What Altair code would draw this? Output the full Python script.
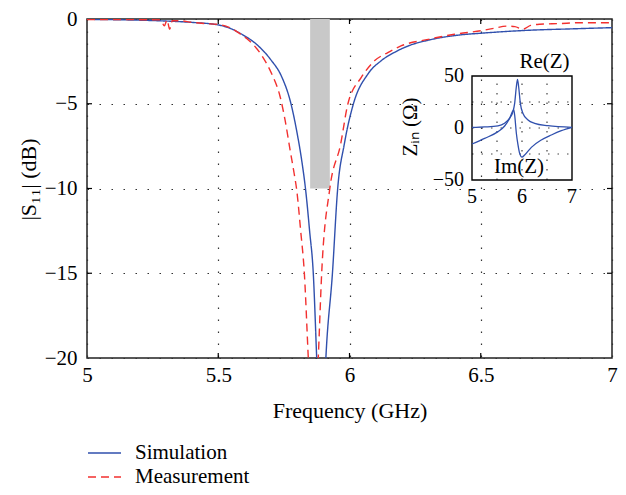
import altair as alt
import pandas as pd

BLUE = "#3050ad"
RED = "#f2302f"
FONT = "Liberation Serif"

# ---------------- data ----------------
series_names = ["Simulation", "Measurement"]

sim_freq = [5.00, 5.10, 5.20, 5.30, 5.40, 5.50, 5.55, 5.59, 5.65, 5.70, 5.74, 5.777,
            5.80, 5.818, 5.833, 5.848, 5.862, 5.875, 5.892, 5.910, 5.935, 5.955, 5.98,
            6.015, 6.07, 6.12, 6.17, 6.234, 6.30, 6.42, 6.50, 6.675, 6.85, 7.00]
sim_db = [-0.02, -0.04, -0.07, -0.12, -0.2, -0.35, -0.58, -0.9, -1.55, -2.4, -3.35, -5.0,
          -6.7, -8.35, -10.1, -12.5, -15.0, -20.0, -27.0, -20.0, -15.0, -10.0, -7.4,
          -5.0, -3.25, -2.47, -1.98, -1.53, -1.25, -0.94, -0.84, -0.67, -0.58, -0.51]

meas_freq = [5.00, 5.10, 5.20, 5.28, 5.295, 5.305, 5.315, 5.325, 5.35, 5.40, 5.45, 5.50,
             5.55, 5.59, 5.616, 5.667, 5.704, 5.736, 5.755, 5.774, 5.789, 5.799, 5.814,
             5.828, 5.843, 5.862, 5.881, 5.894, 5.925, 5.966, 5.994, 6.045, 6.095, 6.146,
             6.196, 6.30, 6.40, 6.50, 6.55, 6.60, 6.63, 6.66, 6.69, 6.725, 6.80, 6.876, 7.00]
meas_db = [-0.03, -0.03, -0.04, -0.05, -0.4, -0.05, -0.6, -0.1, -0.1, -0.2, -0.27, -0.32,
           -0.55, -0.95, -1.25, -2.18, -3.25, -4.6, -6.0, -7.76, -9.1, -10.1, -12.5,
           -15.0, -20.0, -26.0, -20.0, -15.0, -10.0, -7.4, -5.0, -3.45, -2.47, -1.98,
           -1.59, -1.2, -0.9, -0.69, -0.55, -0.42, -0.45, -0.6, -0.38, -0.31, -0.27, -0.22, -0.22]

# shaded band (GHz, dB)
band_f = [5.85, 5.925]
band_db = [-10, 0]

# inset: input impedance (Ohm)
re_freq = [5.0, 5.25, 5.52, 5.65, 5.75, 5.82, 5.853, 5.887, 5.91, 5.933, 5.967, 6.02,
           6.12, 6.253, 6.52, 7.0]
re_val = [0.5, 1.0, 2.0, 4.5, 9.3, 15.7, 23.7, 39.7, 46.8, 39.7, 23.7, 14.0, 7.7, 4.5, 2.2, 0.6]
im_freq = [5.0, 5.253, 5.52, 5.653, 5.753, 5.82, 5.835, 5.853, 5.887, 5.92, 5.953, 6.0,
           6.053, 6.187, 6.387, 6.587, 6.787, 7.0]
im_val = [-15.4, -10.0, -3.5, 1.9, 9.3, 16.7, 17.3, 12.5, -5.0, -16.3, -24.4, -28.0,
          -26.0, -18.6, -11.5, -6.7, -2.6, 0.6]

x_ticks = [5, 5.5, 6, 6.5, 7]
y_ticks = [0, -5, -10, -15, -20]
inset_x_ticks = [5, 6, 7]
inset_y_ticks = [-50, 0, 50]
inset_x_grid = [5.5, 6, 6.5]
inset_y_grid = [-25, 0, 25]

# ---------------- layout ----------------
W, H = 525, 339

main_df = pd.concat([
    pd.DataFrame({"series": series_names[0], "f": sim_freq, "db": sim_db}),
    pd.DataFrame({"series": series_names[1], "f": meas_freq, "db": meas_db}),
])

xs = alt.Scale(domain=[min(x_ticks), max(x_ticks)], nice=False, zero=False)
ys = alt.Scale(domain=[min(y_ticks), max(y_ticks)], nice=False, zero=False)

axis_common = dict(
    grid=True, gridColor="#333", gridDash=[1.5, 10.5], gridWidth=1.2, gridOpacity=1,
    domain=False, ticks=False, labelFont=FONT, labelFontSize=21, labelColor="black",
    labelFlush=False, titleFont=FONT, titleFontSize=22, titleFontWeight="normal",
    titleColor="black", format="~g",
)
ax_x = alt.Axis(values=x_ticks, title="Frequency (GHz)",
                titleX=W / 2, titleY=59, titleBaseline="alphabetic", labelPadding=6,
                **axis_common)
ax_y = alt.Axis(values=y_ticks, title="|S₁₁| (dB)",
                titleX=-59, titleY=160, titleAngle=270, titleAlign="center",
                titleBaseline="middle", labelPadding=10, **axis_common)

band = alt.Chart(pd.DataFrame({"f0": [band_f[0]], "f1": [band_f[1]],
                               "d0": [band_db[0]], "d1": [band_db[1]]})).mark_rect(
    color="#c8c8c8").encode(
    x=alt.X("f0:Q", scale=xs, axis=ax_x),
    x2="f1:Q",
    y=alt.Y("d0:Q", scale=ys, axis=ax_y),
    y2="d1:Q",
)

legend = alt.Legend(orient="none", legendX=0, legendY=424, title=None, direction="vertical",
                    labelFont=FONT, labelFontSize=21, labelColor="black",
                    symbolType="stroke", symbolSize=1089, symbolStrokeWidth=1.3,
                    clipHeight=20, rowPadding=3, labelOffset=13, padding=0)

lines = alt.Chart(main_df).mark_line(clip=True, strokeWidth=1.4, interpolate="monotone").encode(
    x=alt.X("f:Q", scale=xs, axis=ax_x),
    y=alt.Y("db:Q", scale=ys, axis=ax_y),
    color=alt.Color("series:N", scale=alt.Scale(domain=series_names, range=[BLUE, RED]),
                    legend=legend),
    strokeDash=alt.StrokeDash("series:N", scale=alt.Scale(domain=series_names,
                                                          range=[[1, 0], [8, 5]]),
                              legend=legend),
)

inner_x = pd.DataFrame({"f": x_ticks[1:-1]})
inner_y = pd.DataFrame({"db": y_ticks[1:-1]})
tick_b = alt.Chart(inner_x).mark_rule(color="black", strokeWidth=1.2).encode(
    x=alt.X("f:Q", scale=xs, axis=ax_x), y=alt.value(H), y2=alt.value(H - 5))
tick_t = alt.Chart(inner_x).mark_rule(color="black", strokeWidth=1.2).encode(
    x=alt.X("f:Q", scale=xs, axis=ax_x), y=alt.value(0), y2=alt.value(5))
tick_l = alt.Chart(inner_y).mark_rule(color="black", strokeWidth=1.2).encode(
    y=alt.Y("db:Q", scale=ys, axis=ax_y), x=alt.value(0), x2=alt.value(5))
tick_r = alt.Chart(inner_y).mark_rule(color="black", strokeWidth=1.2).encode(
    y=alt.Y("db:Q", scale=ys, axis=ax_y), x=alt.value(W), x2=alt.value(W - 5))

main = alt.layer(band, lines, tick_b, tick_t, tick_l, tick_r)

# ---------------- inset ----------------
ixs = alt.Scale(domain=[min(inset_x_ticks), max(inset_x_ticks)], range=[385, 485],
                nice=False, zero=False)
iys = alt.Scale(domain=[min(inset_y_ticks), max(inset_y_ticks)], range=[161, 57],
                nice=False, zero=False)

inset_df = pd.concat([
    pd.DataFrame({"part": "Re", "f": re_freq, "z": re_val}),
    pd.DataFrame({"part": "Im", "f": im_freq, "z": im_val}),
])

gx = pd.DataFrame({"f": inset_x_grid, "z0": min(inset_y_ticks), "z1": max(inset_y_ticks)})
gy = pd.DataFrame({"z": inset_y_grid, "f0": min(inset_x_ticks), "f1": max(inset_x_ticks)})
grid_dash = [1.5, 8]
igx = alt.Chart(gx).mark_rule(color="#444", strokeDash=grid_dash, strokeWidth=1.2).encode(
    x=alt.X("f:Q", scale=ixs, axis=None), y=alt.Y("z0:Q", scale=iys, axis=None), y2="z1:Q")
igy = alt.Chart(gy).mark_rule(color="#444", strokeDash=grid_dash, strokeWidth=1.2).encode(
    y=alt.Y("z:Q", scale=iys, axis=None), x=alt.X("f0:Q", scale=ixs, axis=None), x2="f1:Q")

box = alt.Chart(pd.DataFrame({"f0": [min(inset_x_ticks)], "f1": [max(inset_x_ticks)],
                              "z0": [min(inset_y_ticks)], "z1": [max(inset_y_ticks)]})).mark_rect(
    fillOpacity=0, stroke="black", strokeWidth=1.4).encode(
    x=alt.X("f0:Q", scale=ixs, axis=None), x2="f1:Q",
    y=alt.Y("z0:Q", scale=iys, axis=None), y2="z1:Q")

icurves = alt.Chart(inset_df).mark_line(color=BLUE, strokeWidth=1.3,
                                        interpolate="monotone").encode(
    x=alt.X("f:Q", scale=ixs, axis=None),
    y=alt.Y("z:Q", scale=iys, axis=None),
    detail="part:N",
)

ixl = alt.Chart(pd.DataFrame({"f": inset_x_ticks, "z": min(inset_y_ticks)})).mark_text(
    font=FONT, fontSize=20, baseline="top", align="center", dy=7, color="black").encode(
    x=alt.X("f:Q", scale=ixs, axis=None), y=alt.Y("z:Q", scale=iys, axis=None),
    text=alt.Text("f:Q", format="d"))
iyl = alt.Chart(pd.DataFrame({"z": inset_y_ticks, "f": min(inset_x_ticks)})).mark_text(
    font=FONT, fontSize=20, baseline="middle", align="right", dx=-8, color="black").encode(
    x=alt.X("f:Q", scale=ixs, axis=None), y=alt.Y("z:Q", scale=iys, axis=None),
    text=alt.Text("z:Q", format="d"))

notes = pd.DataFrame({"label": ["Re(Z)", "Im(Z)"], "f": [6.45, 5.94], "z": [63.5, -37.5]})
inotes = alt.Chart(notes).mark_text(font=FONT, fontSize=21, baseline="middle",
                                    align="center", color="black").encode(
    x=alt.X("f:Q", scale=ixs, axis=None), y=alt.Y("z:Q", scale=iys, axis=None),
    text="label:N")

ititle = alt.Chart(pd.DataFrame({"label": ["Zᵢₙ (Ω)"], "f": [3.78], "z": [1.0]})).mark_text(
    font=FONT, fontSize=21, baseline="middle", align="center", angle=270,
    color="black").encode(
    x=alt.X("f:Q", scale=ixs, axis=None), y=alt.Y("z:Q", scale=iys, axis=None),
    text="label:N")

inset = alt.layer(igx, igy, box, icurves, ixl, iyl, inotes, ititle)

chart = alt.layer(main, inset).resolve_scale(
    x="independent", y="independent"
).properties(
    width=W, height=H,
    autosize=alt.AutoSizeParams(type="none"),
    padding={"left": 79, "top": 11, "right": 6, "bottom": 129},
).configure(
    font=FONT
).configure_view(
    stroke="#222", strokeWidth=1.5
).configure_axis(
    labelFont=FONT, titleFont=FONT,
)

chart.save("out.html", embed_options={"renderer": "svg", "actions": False})
